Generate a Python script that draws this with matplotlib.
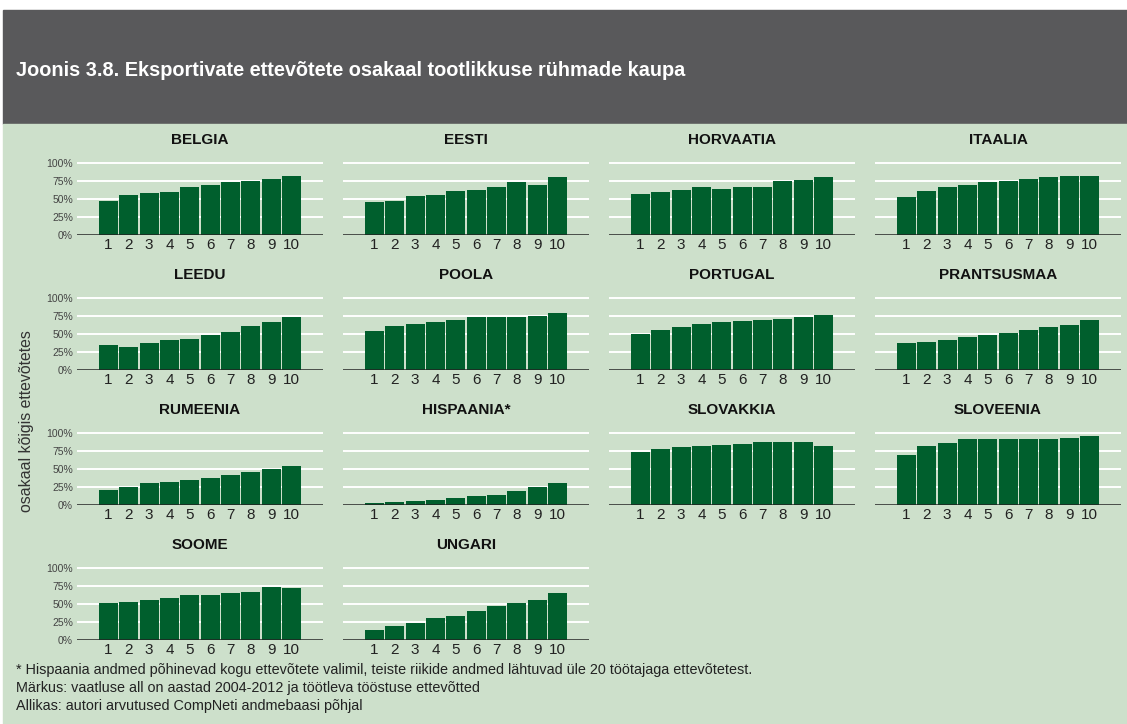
"""Eksportivate ettevõtete osakaal tootlikkuse rühmade kaupa (Joonis 3.8)."""

import matplotlib.pyplot as plt
from matplotlib.patches import Rectangle

plt.rcParams["font.family"] = ["Liberation Sans", "DejaVu Sans"]

W, H = 1127, 724

groups = list(range(1, 11))
countries = [
    "BELGIA", "EESTI", "HORVAATIA", "ITAALIA",
    "LEEDU", "POOLA", "PORTUGAL", "PRANTSUSMAA",
    "RUMEENIA", "HISPAANIA*", "SLOVAKKIA", "SLOVEENIA",
    "SOOME", "UNGARI",
]
belgia = [47, 56, 59, 60, 67, 70, 73, 75, 78, 82]
eesti = [46, 47, 54, 56, 61, 63, 67, 74, 70, 81]
horvaatia = [57, 60, 63, 66, 64, 67, 66, 75, 77, 80]
itaalia = [53, 61, 67, 70, 73, 75, 78, 80, 82, 82]
leedu = [35, 32, 38, 42, 43, 49, 53, 61, 67, 73]
poola = [54, 61, 64, 67, 70, 73, 73, 74, 75, 79]
portugal = [50, 56, 60, 64, 66, 68, 70, 71, 74, 77]
prantsusmaa = [38, 39, 42, 46, 49, 52, 56, 60, 63, 70]
rumeenia = [21, 25, 30, 32, 35, 38, 41, 46, 50, 54]
hispaania = [3, 4, 5, 7, 10, 12, 14, 20, 25, 31]
slovakkia = [73, 78, 80, 82, 84, 85, 87, 88, 88, 82]
sloveenia = [70, 82, 86, 91, 92, 92, 92, 92, 93, 96]
soome = [52, 53, 56, 58, 63, 63, 65, 67, 73, 72]
ungari = [14, 19, 24, 31, 34, 40, 47, 52, 56, 65]
values = [belgia, eesti, horvaatia, itaalia, leedu, poola, portugal, prantsusmaa,
          rumeenia, hispaania, slovakkia, sloveenia, soome, ungari]

ytick_vals = [0, 25, 50, 75, 100]
ytick_labels = ["0%", "25%", "50%", "75%", "100%"]

title = "Joonis 3.8. Eksportivate ettevõtete osakaal tootlikkuse rühmade kaupa"
ylabel = "osakaal kõigis ettevõtetes"
notes = [
    "* Hispaania andmed põhinevad kogu ettevõtete valimil, teiste riikide andmed lähtuvad üle 20 töötajaga ettevõtetest.",
    "Märkus: vaatluse all on aastad 2004-2012 ja töötleva tööstuse ettevõtted",
    "Allikas: autori arvutused CompNeti andmebaasi põhjal",
]

HEADER = "#59595b"
BG = "#cde0cb"
BAR = "#005f2d"

fig = plt.figure(figsize=(W / 100, H / 100), dpi=100)
fig.patch.set_facecolor("white")


def fx(px):
    return px / W


def fy(py):
    return 1 - py / H


# header band and green panel background
fig.patches.append(Rectangle((fx(3), fy(124)), 1, fy(10) - fy(124),
                             transform=fig.transFigure, color=HEADER, zorder=-2))
fig.patches.append(Rectangle((fx(3), 0), 1, fy(124),
                             transform=fig.transFigure, color=BG, zorder=-2))
fig.text(fx(16), fy(71), title, color="white", fontsize=14.3,
         fontweight="bold", va="center", ha="left")

col_left = [77, 343, 609, 875]
row_top = [163, 298, 433, 568]
ax_w = 246
ax_h = 72
ymax = 102

for i, (name, vals) in enumerate(zip(countries, values)):
    r, c = divmod(i, 4)
    top = row_top[r] - ax_h * (ymax - 100) / 100
    h = ax_h * ymax / 100
    ax = fig.add_axes([fx(col_left[c]), fy(top + h), fx(ax_w), h / H])
    ax.set_facecolor("none")
    ax.bar(groups, vals, width=0.92, color=BAR, zorder=2)
    ax.set_xlim(-0.55, 11.55)
    ax.set_ylim(0, ymax)
    for v in ytick_vals[1:]:
        ax.axhline(v, color="white", lw=1.4, zorder=1)
    ax.axhline(0, color="#222222", lw=1.8, zorder=3)
    for s in ax.spines.values():
        s.set_visible(False)
    ax.set_xticks(groups)
    ax.set_xticklabels([str(g) for g in groups], fontsize=11, color="#222222")
    ax.tick_params(axis="x", length=0, pad=2)
    ax.set_yticks(ytick_vals)
    if c == 0:
        ax.set_yticklabels(ytick_labels, fontsize=7.5, color="#444444")
    else:
        ax.set_yticklabels([])
    ax.tick_params(axis="y", length=0, pad=3)
    fig.text(fx(col_left[c] + ax_w / 2), fy(row_top[r] - 23), name,
             fontsize=11, fontweight="bold", ha="center", va="center", color="#111111")

fig.text(fx(27), fy(421), ylabel, rotation=90, fontsize=11.4, color="#333333",
         ha="center", va="center")

for k, line in enumerate(notes):
    fig.text(fx(16), fy(670 + 18 * k), line, fontsize=10.35, color="#222222",
             ha="left", va="center")

fig.savefig("out.png", dpi=100)
